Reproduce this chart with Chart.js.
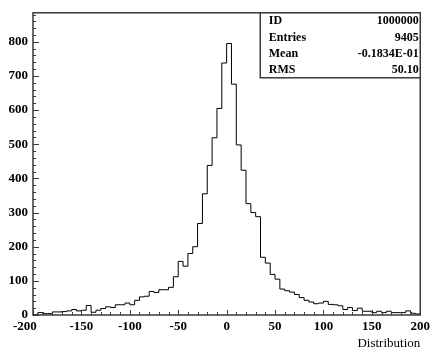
<!DOCTYPE html>
<html>
<head>
<meta charset="utf-8">
<script src="https://cdn.jsdelivr.net/npm/chart.js@4.4.1/dist/chart.umd.min.js"></script>
<style>
  html, body { margin: 0; padding: 0; background: #fff; }
  #wrap { width: 434px; height: 352px; }
</style>
</head>
<body>
<div id="wrap"><canvas id="histo" width="434" height="352"></canvas></div>
<script>
'use strict';

// histogram binning
let binLow = -200;
let binWidth = 5;

// bin contents from -200 to 200 (80 bins of width 5)
let counts = [
  1, 7, 4, 4, 9, 9, 10, 12, 16, 12,
  14, 28, 8, 14, 19, 24, 22, 30, 30, 35,
  30, 43, 53, 55, 69, 66, 74, 74, 81, 112,
  157, 143, 180, 200, 268, 355, 438, 519, 605, 738,
  795, 676, 498, 424, 326, 300, 288, 169, 152, 119,
  105, 76, 71, 67, 60, 51, 43, 38, 33, 35,
  40, 31, 30, 27, 16, 22, 13, 20, 11, 11,
  7, 11, 7, 11, 7, 7, 7, 12, 5, 3
];

// axis range and labelled ticks
let xMin = -200, xMax = 200, xLabelStep = 50, xMinorStep = 10;
let yMin = 0, yMax = 885, yLabelStep = 100, yMinorStep = 20;

// statistics box
let statNames = ['ID', 'Entries', 'Mean', 'RMS'];
let statValues = ['1000000', '9405', '-0.1834E-01', '50.10'];

let axisTitle = 'Distribution';

// build step points: left edge of every bin, then the right edge of the last one
let points = [{ x: binLow, y: 0 }];
for (let i = 0; i < counts.length; i++) {
  points.push({ x: binLow + i * binWidth, y: counts[i] });
}
points.push({ x: binLow + counts.length * binWidth, y: counts[counts.length - 1] });
points.push({ x: binLow + counts.length * binWidth, y: 0 });

let serif = "'Liberation Serif', 'DejaVu Serif', serif";
let frameColor = '#3a3a3a';

// frame, inside ticks and the stats box (PAW style)
let pawFrame = {
  id: 'pawFrame',
  afterDatasetsDraw(chart) {
    let ctx = chart.ctx;
    let a = chart.chartArea;
    let xs = chart.scales.x;
    let ys = chart.scales.y;
    ctx.save();
    ctx.strokeStyle = frameColor;
    ctx.lineWidth = 1;

    for (let v = xMin; v <= xMax; v += xMinorStep) {
      let px = Math.round(xs.getPixelForValue(v)) + 0.5;
      let len = (v % xLabelStep === 0) ? 5 : 3;
      ctx.beginPath();
      ctx.moveTo(px, a.bottom);
      ctx.lineTo(px, a.bottom - len);
      ctx.stroke();
    }
    for (let v = yMin; v <= yMax; v += yMinorStep) {
      let py = Math.round(ys.getPixelForValue(v)) + 0.5;
      let len = (v % yLabelStep === 0) ? 6 : 3;
      ctx.beginPath();
      ctx.moveTo(a.left, py);
      ctx.lineTo(a.left + len, py);
      ctx.stroke();
    }

    ctx.lineWidth = 1.5;
    ctx.strokeRect(a.left, a.top, a.right - a.left, a.bottom - a.top);

    // stats box in the top right corner
    let bw = 160, bh = 65;
    let bx = a.right - bw;
    let by = a.top;
    ctx.fillStyle = '#fff';
    ctx.fillRect(bx, by, bw, bh);
    ctx.strokeRect(bx, by, bw, bh);

    ctx.fillStyle = '#000';
    ctx.font = 'bold 12px ' + serif;
    ctx.textBaseline = 'alphabetic';
    for (let i = 0; i < statNames.length; i++) {
      let ty = by + 11.5 + i * 16.3;
      ctx.textAlign = 'left';
      ctx.fillText(statNames[i], bx + 8.5, ty);
      ctx.textAlign = 'right';
      ctx.fillText(statValues[i], a.right - 1.5, ty);
    }
    ctx.restore();
  }
};

let ctx = document.getElementById('histo').getContext('2d');
let chart = new Chart(ctx, {
  type: 'line',
  data: {
    datasets: [{
      data: points,
      stepped: 'before',
      borderColor: '#000',
      borderWidth: 1,
      pointRadius: 0,
      fill: false,
      tension: 0
    }]
  },
  options: {
    responsive: false,
    animation: false,
    events: [],
    layout: { padding: { top: 5, right: 10, left: 0, bottom: 0 } },
    plugins: {
      legend: { display: false },
      tooltip: { enabled: false }
    },
    scales: {
      x: {
        type: 'linear',
        min: xMin,
        max: xMax,
        grid: { display: false, drawTicks: false },
        border: { display: false },
        afterFit: function (scale) { scale.height = 37; },
        ticks: {
          stepSize: xLabelStep,
          autoSkip: false,
          maxRotation: 0,
          padding: 4,
          color: '#000',
          font: { family: serif, size: 13, weight: 'bold' },
          // the first label sits a little left of its tick in the original
          callback: function (v) { return v === xMin ? String(v) + '     ' : String(v); }
        },
        title: {
          display: true,
          text: axisTitle,
          align: 'end',
          color: '#000',
          padding: { top: 0, bottom: 1 },
          font: { family: serif, size: 13 }
        }
      },
      y: {
        type: 'linear',
        min: yMin,
        max: yMax,
        grid: { display: false, drawTicks: false },
        border: { display: false },
        afterFit: function (scale) { scale.width = 33; },
        ticks: {
          stepSize: yLabelStep,
          autoSkip: false,
          padding: 5,
          color: '#000',
          font: { family: serif, size: 13, weight: 'bold' },
          callback: function (v) { return v % yLabelStep === 0 ? String(v) : ''; }
        }
      }
    }
  },
  plugins: [pawFrame]
});
</script>
</body>
</html>
